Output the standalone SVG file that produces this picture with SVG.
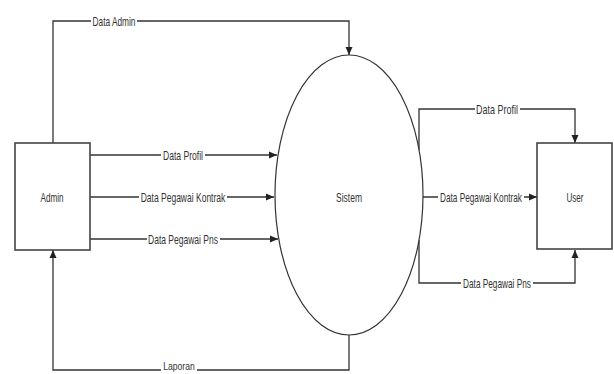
<svg xmlns="http://www.w3.org/2000/svg" width="614" height="374" viewBox="0 0 614 374">
<style>
.ln{fill:none;stroke:#333;stroke-width:1.3}
.box{fill:#fff;stroke:#444;stroke-width:1.6}
.lbl{font-family:"Liberation Sans",Arial,sans-serif;font-size:13px;fill:#333;text-anchor:middle;dominant-baseline:central}
.bg{fill:#fff}
</style>
<defs>
<marker id="ah" viewBox="0 0 8 8" refX="8" refY="4" markerWidth="8" markerHeight="8" markerUnits="userSpaceOnUse" orient="auto">
<path d="M0,0.5 L8,4 L0,7.5 Z" fill="#222"/>
</marker>
</defs>
<rect width="614" height="374" fill="#fff"/>
<g id="connectors">
<path class="ln" d="M53,143 V21 H349 V55" marker-end="url(#ah)"/>
<path class="ln" d="M90,155 H277" marker-end="url(#ah)"/>
<path class="ln" d="M90,197 H274" marker-end="url(#ah)"/>
<path class="ln" d="M90,239 H278" marker-end="url(#ah)"/>
<path class="ln" d="M349,335 V370 H53 V250" marker-end="url(#ah)"/>
<path class="ln" d="M419,150 V109 H575 V143" marker-end="url(#ah)"/>
<path class="ln" d="M423,197 H537" marker-end="url(#ah)"/>
<path class="ln" d="M419,240 V283 H575 V250" marker-end="url(#ah)"/>
<rect class="bg" x="91" y="14" width="46" height="14"/>
<text class="lbl" transform="translate(114,21) scale(0.64,1)">Data Admin</text>
<rect class="bg" x="161" y="148" width="44" height="14"/>
<text class="lbl" transform="translate(183,155) scale(0.66,1)">Data Profil</text>
<rect class="bg" x="139" y="190" width="88" height="14"/>
<text class="lbl" transform="translate(183,197) scale(0.655,1)">Data Pegawai Kontrak</text>
<rect class="bg" x="147" y="232" width="73" height="14"/>
<text class="lbl" transform="translate(183,239) scale(0.655,1)">Data Pegawai Pns</text>
<rect class="bg" x="161" y="362" width="36" height="12"/>
<text class="lbl" style="font-size:11px" transform="translate(179,366) scale(0.78,1)">Laporan</text>
<rect class="bg" x="475" y="102" width="45" height="14"/>
<text class="lbl" transform="translate(497,109) scale(0.69,1)">Data Profil</text>
<rect class="bg" x="438" y="190" width="86" height="14"/>
<text class="lbl" transform="translate(481,197) scale(0.634,1)">Data Pegawai Kontrak</text>
<rect class="bg" x="461" y="276" width="72" height="14"/>
<text class="lbl" transform="translate(497,283) scale(0.636,1)">Data Pegawai Pns</text>
</g>
<g id="admin">
<rect class="box" x="15" y="143" width="75" height="107"/>
<text class="lbl" transform="translate(52,197) scale(0.625,1)">Admin</text>
</g>
<g id="sistem">
<ellipse cx="349" cy="195" rx="74" ry="140" fill="#fff" stroke="#333" stroke-width="1.2"/>
<text class="lbl" transform="translate(349,197) scale(0.655,1)">Sistem</text>
</g>
<g id="user">
<rect class="box" x="537" y="143" width="75" height="106"/>
<text class="lbl" transform="translate(575,197) scale(0.62,1)">User</text>
</g>
</svg>
